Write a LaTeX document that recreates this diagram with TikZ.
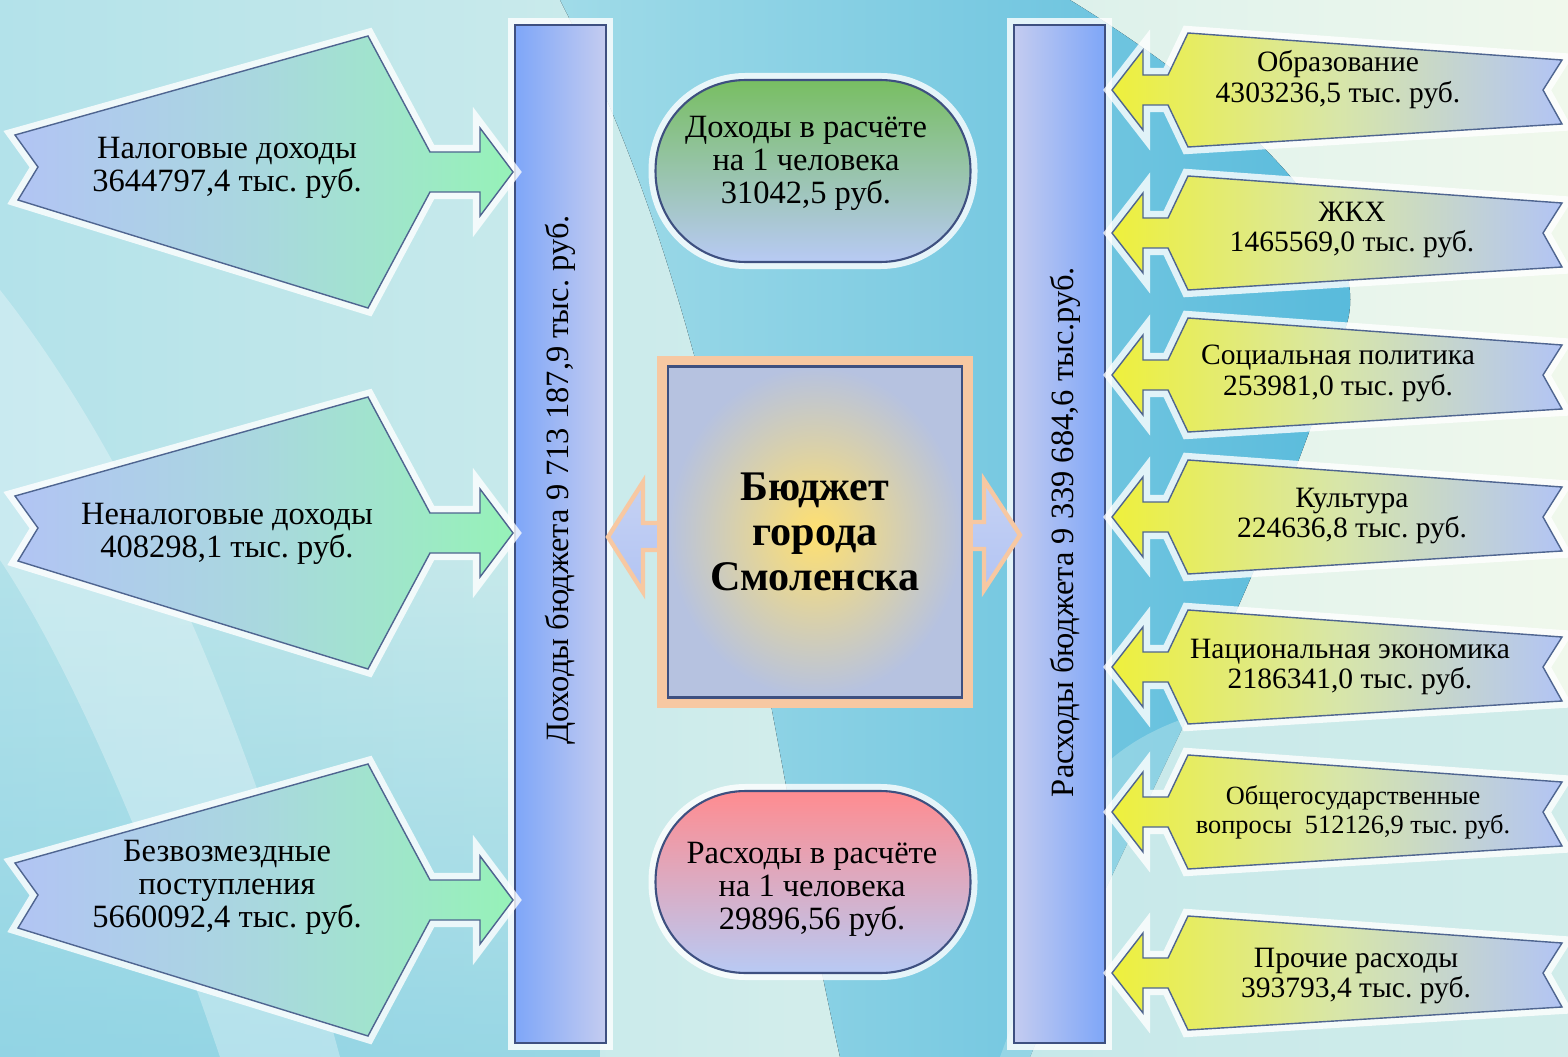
\documentclass[tikz,border=0pt]{standalone}
\usepackage{fontspec}
\IfFontExistsTF{LiberationSerif-Regular.ttf}
  {\setmainfont{LiberationSerif-Regular.ttf}[BoldFont=LiberationSerif-Bold.ttf]}
  {\setmainfont{Liberation Serif}}
\usetikzlibrary{fadings}
\definecolor{bgcyan}{HTML}{B3E2EA}
\definecolor{bgpale}{HTML}{F0F8EC}
\definecolor{bgblue}{HTML}{55B9DB}
\definecolor{bglight}{HTML}{A0DBE8}
\definecolor{bgdeep}{HTML}{84CFE2}
\definecolor{barblue}{HTML}{7EA6F8}
\definecolor{barlav}{HTML}{C4CCF0}
\definecolor{barline}{HTML}{3E5080}
\definecolor{arrlav}{HTML}{B2C4F4}
\definecolor{arrmid}{HTML}{A9D8DE}
\definecolor{arrgreen}{HTML}{96F2B8}
\definecolor{arryellow}{HTML}{EEF03C}
\definecolor{arrcream}{HTML}{D8E6A8}
\definecolor{arrline}{HTML}{4F6590}
\definecolor{ovgreen}{HTML}{78BE62}
\definecolor{ovpink}{HTML}{FF8C90}
\definecolor{ovblue}{HTML}{B8CAF4}
\definecolor{sqyellow}{HTML}{FFE070}
\definecolor{sqgrey}{HTML}{B6C2E0}
\definecolor{peach}{HTML}{F7C8A2}
\definecolor{sidelav}{HTML}{C6D2F2}
\tikzstyle{glow}=[preaction={draw=white,line width=8pt,opacity=0.8}]
\tikzstyle{budgetbar}=[draw=barline,line width=1.2pt,minimum width=1.82cm,minimum height=20.36cm,glow]
\tikzstyle{ovalbox}=[draw=barline,line width=1.2pt,minimum width=6.3cm,minimum height=3.64cm,rounded corners=1.8cm,glow]
\tikzstyle{incarrow}=[draw=arrline,line width=0.8pt,left color=arrlav,right color=arrgreen,middle color=arrmid,glow]
\tikzstyle{exparrow}=[draw=arrline,line width=0.8pt,left color=arryellow,right color=arrlav,middle color=arrcream,glow]
\tikzstyle{sidearrow}=[draw=peach,line width=2.5pt,top color=sidelav,bottom color=arrlav]
\tikzstyle{inclbl}=[align=center,font=\fontsize{18.5}{18.8}\selectfont]
\tikzstyle{explbl}=[align=center,font=\fontsize{16.8}{17.6}\selectfont]
\tikzstyle{bartxt}=[rotate=90,font=\fontsize{18.5}{19}\selectfont]
\begin{document}
\frenchspacing
\begin{tikzpicture}[x=0.02cm,y=-0.02cm]
\useasboundingbox (0,0) rectangle (1568,1057);
\clip (0,0) rectangle (1568,1057);
% background
\fill[left color=bgcyan,right color=bgpale] (0,0) rectangle (1568,1057);
\fill[bgdeep,path fading=north,opacity=0.7] (0,560) rectangle (600,1057);
\fill[white,opacity=0.3] (0,290) .. controls (150,480) and (260,760) .. (340,1057) -- (220,1057) .. controls (140,820) and (60,650) .. (0,560) -- cycle;
\fill[left color=bglight,right color=bgblue] (560,0) -- (1070,0) .. controls (1250,110) and (1390,250) .. (1340,340)
  .. controls (1260,600) and (1120,840) .. (1030,1057) -- (840,1057) .. controls (760,700) and (730,330) .. (560,0) -- cycle;
\fill[bgcyan,opacity=0.5] (1110,760) .. controls (1180,700) and (1300,680) .. (1568,700) -- (1568,1057) -- (1000,1057) -- cycle;

% budget bars
\node[budgetbar,left color=barblue,right color=barlav] (incbar) at (560.5,534) {};
\node[budgetbar,left color=barlav,right color=barblue] (expbar) at (1059.5,534) {};
\node[bartxt] (inctxt) at (560,480) {Доходы бюджета 9 713 187,9 тыс. руб.};
\node[bartxt] (exptxt) at (1065,532) {Расходы бюджета 9 339 684,6 тыс.руб.};

% revenue arrows
\foreach \c in {172,533,900}
  \draw[incarrow] (15,\c-37) -- (368,\c-136) -- (430,\c-20) -- (480,\c-20) -- (480,\c-44) -- (513,\c)
    -- (480,\c+44) -- (480,\c+20) -- (430,\c+20) -- (368,\c+136) -- (18,\c+28) -- (38,\c-5) -- cycle;
\node[inclbl] (taxinc) at (227,168) {Налоговые доходы\\3644797,4 тыс. руб.};
\node[inclbl] (nontaxinc) at (227,534) {Неналоговые доходы\\408298,1 тыс. руб.};
\node[inclbl] (grants) at (227,887) {Безвозмездные\\поступления\\5660092,4 тыс. руб.};

% expense arrows
\foreach \c in {90,233,375,517,667,812,973}
  \draw[exparrow] (1112,\c) -- (1143,\c-40) -- (1143,\c-15) -- (1168,\c-15) -- (1188,\c-57) -- (1562,\c-30)
    -- (1543,\c) -- (1562,\c+34) -- (1188,\c+57) -- (1168,\c+15) -- (1143,\c+15) -- (1143,\c+40) -- cycle;
\node[explbl] (edu) at (1338,80) {Образование\\4303236,5 тыс. руб.};
\node[explbl] (housing) at (1352,230) {ЖКХ\\1465569,0 тыс. руб.};
\node[explbl] (social) at (1338,373) {Социальная политика\\253981,0 тыс. руб.};
\node[explbl] (culture) at (1352,516) {Культура\\224636,8 тыс. руб.};
\node[explbl] (economy) at (1350,667) {Национальная экономика\\2186341,0 тыс. руб.};
\node[explbl,font=\fontsize{15}{16.6}\selectfont] (govt) at (1353,812) {Общегосударственные\\вопросы\ \ 512126,9 тыс. руб.};
\node[explbl] (other) at (1356,976) {Прочие расходы\\393793,4 тыс. руб.};

% centre
\draw[sidearrow] (608,537) -- (643,482) -- (643,523) -- (672,523) -- (672,550) -- (643,550) -- (643,592) -- cycle;
\draw[sidearrow] (1020,535) -- (984,480) -- (984,522) -- (955,522) -- (955,549) -- (984,549) -- (984,590) -- cycle;
\node[ovalbox,top color=ovgreen,bottom color=ovblue] (incper) at (813,171) {};
\node[inclbl] (incpertxt) at (806,163) {Доходы в расчёте\\на 1 человека\\31042,5 руб.};
\node[ovalbox,top color=ovpink,bottom color=ovblue] (expper) at (813,882) {};
\node[inclbl] (exppertxt) at (812,889) {Расходы в расчёте\\на 1 человека\\29896,56 руб.};
\node[draw=barline,line width=1.2pt,inner color=sqyellow,outer color=sqgrey,minimum width=5.88cm,minimum height=6.62cm,
  preaction={draw=peach,line width=12pt,rounded corners=4pt},align=center,
  font=\fontsize{24}{25.5}\selectfont\bfseries] (budget) at (815,532) {Бюджет\\города\\Смоленска};
\end{tikzpicture}
\end{document}
